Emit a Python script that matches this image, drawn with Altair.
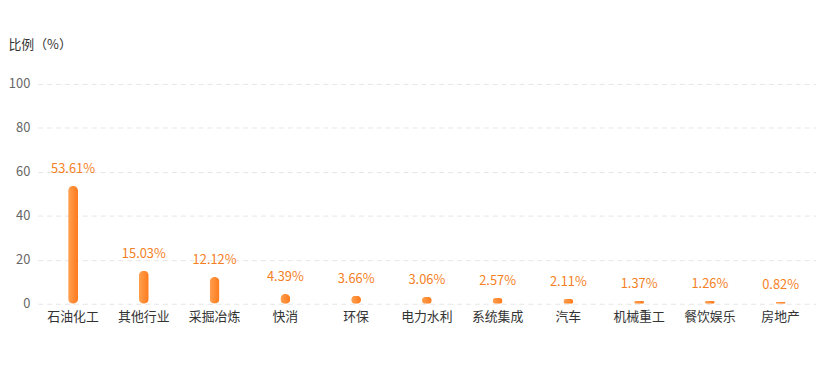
import altair as alt
import pandas as pd

categories = ["石油化工", "其他行业", "采掘冶炼", "快消", "环保", "电力水利", "系统集成", "汽车", "机械重工", "餐饮娱乐", "房地产"]
values = [53.61, 15.03, 12.12, 4.39, 3.66, 3.06, 2.57, 2.11, 1.37, 1.26, 0.82]

df = pd.DataFrame({"cat": categories, "val": values})
df["label"] = [f"{v:.2f}%" for v in values]

FONT = "Noto Sans CJK SC"

x = alt.X("cat:N", sort=categories, title=None,
          scale=alt.Scale(paddingInner=0, paddingOuter=0),
          axis=alt.Axis(labelAngle=0, labelColor="#333", labelFontSize=13, labelFont=FONT,
                        labelPadding=7, domain=False, ticks=False))
y = alt.Y("val:Q", scale=alt.Scale(domain=[0, 100]),
          axis=alt.Axis(values=[0, 20, 40, 60, 80, 100], title="比例（%）", titleAngle=0,
                        titleAlign="left", titleBaseline="middle", titleX=-30, titleY=-40,
                        titleFont=FONT, titleFontSize=13, titleFontWeight="normal", titleColor="#333",
                        labelColor="#666", labelFontSize=13, labelFont=FONT, labelPadding=8,
                        domain=False, ticks=False, grid=True, gridColor="#e6e6e6", gridDash=[5, 4]))

gradient = alt.Gradient(gradient="linear", x1=0, x2=1, y1=0, y2=0,
                        stops=[alt.GradientStop(color="#ffa050", offset=0),
                               alt.GradientStop(color="#ff7a1c", offset=1)])

bars = alt.Chart(df).mark_bar(width=10, cornerRadius=5, color=gradient).encode(x=x, y=y)
labels = alt.Chart(df).mark_text(dy=-10, color="#f57f25", fontSize=13, font=FONT, baseline="bottom").encode(
    x=alt.X("cat:N", sort=categories), y="val:Q", text="label:N")

chart = (bars + labels).properties(
    width=786, height=222,
    autosize=alt.AutoSizeParams(type="none"),
    padding={"left": 30, "top": 75, "right": 0, "bottom": 40},
).configure_view(stroke=None)

chart.save("out.html", embed_options={"renderer": "svg", "actions": False})
